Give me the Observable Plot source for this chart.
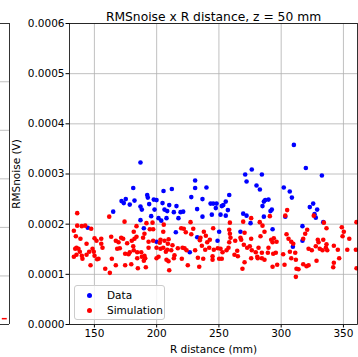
<!DOCTYPE html>
<html><head><meta charset="utf-8">
<script src="https://cdn.jsdelivr.net/npm/d3@7"></script>
<script src="https://cdn.jsdelivr.net/npm/@observablehq/plot@0.6"></script>
<style>
body{margin:0;background:#fff;}
#wrap{position:relative;width:358px;height:357px;overflow:hidden;font-family:"DejaVu Sans",sans-serif;}
#wrap svg{position:absolute;left:0;top:0;}
#legend{position:absolute;left:74px;top:285px;width:89px;height:33px;border:1px solid #cccccc;border-radius:3px;background:rgba(255,255,255,0.8);font-size:10.5px;color:#000;}
.row{position:absolute;left:0;height:14px;line-height:14px;}
.dot{position:absolute;left:11.5px;top:4.5px;width:5px;height:5px;border-radius:50%;}
.lab{position:absolute;left:32px;top:0;white-space:nowrap;}
</style></head><body><div id="wrap"></div>
<script>
const titleText = "RMSnoise x R distance, z = 50 mm";
const xLabel = "R distance (mm)";
const yLabel = "RMSnoise (V)";
const xTicks = [150, 200, 250, 300, 350];
const yTicks = [0, 0.0001, 0.0002, 0.0003, 0.0004, 0.0005, 0.0006];
const seriesNames = ["Data", "Simulation"];
const seriesColors = ["#0000ff", "#ff0000"];

// Data (values in units of 1e-4 V)
const dataR = [187.0,181.2,192.4,192.9,175.2,171.8,173.6,178.4,182.2,187.0,188.1,165.1,194.0,197.7,199.9,204.7,205.5,198.3,195.6,201.5,187.0,206.3,189.7,199.9,144.7,
271.1,276.4,272.2,280.2,282.9,230.9,230.9,240.0,212.2,227.8,236.8,258.3,255.5,253.5,252.3,243.3,245.4,248.1,247.5,257.2,251.3,255.5,244.3,232.5,236.8,
208.5,210.1,215.9,213.8,219.2,221.3,217.5,207.9,269.5,272.2,275.4,267.3,293.1,248.9,317.1,309.4,226.6,232.6,215.4,250.2,317.1,333.8,303.3,286.1,327.8,203.7,
310.2,319.8,332.7,284.5,302.1,306.9,308.6,289.8,287.2,286.1,285.0,292.5,291.4,325.7,323.0,328.9,326.8];
const dataV = [3.23,2.72,2.58,2.53,2.50,2.46,2.42,2.39,2.47,2.35,2.29,2.25,2.40,2.49,2.48,2.42,2.66,2.29,2.16,2.12,2.08,2.29,1.92,1.65,1.93,
2.99,3.09,2.85,2.77,2.69,2.87,2.72,2.73,2.70,2.54,2.50,2.58,2.45,2.38,2.36,2.41,2.41,2.41,2.32,2.28,2.19,2.17,2.19,2.30,2.15,
2.26,2.38,2.36,2.24,2.24,2.25,2.12,2.12,2.21,2.17,2.02,1.85,1.90,1.67,1.67,1.55,1.44,1.74,1.84,1.85,1.96,2.04,2.15,2.15,2.13,2.07,
3.58,3.12,2.97,2.99,2.73,2.65,2.53,2.49,2.48,2.45,2.36,2.29,2.26,2.41,2.34,2.29,2.20];

// Simulation (values in units of 1e-4 V)
const simR = [136.2,161.9,275.9,304.8,290.9,303.3,326.2,
133.5,136.2,139.9,142.6,135.1,138.8,135.6,137.2,134.6,138.3,135.6,133.5,139.9,143.7,145.8,140.4,146.9,153.3,143.7,150.1,151.7,155.5,155.5,156.5,149.5,
163.5,167.2,169.4,171.5,173.1,174.2,183.8,182.2,180.0,181.2,170.4,174.7,177.4,178.4,181.6,184.4,187.6,188.1,190.8,184.4,190.2,174.7,167.2,164.0,158.7,162.4,
191.3,193.5,197.2,193.5,199.9,203.1,201.5,199.9,183.8,
147.4,148.5,194.5,197.2,191.8,196.7,205.7,205.3,189.7,184.9,179.6,150.1,152.2,168.3,176.3,189.1,190.2,181.6,209.6,212.7,214.3,207.4,209.5,210.1,203.1,206.3,202.5,
209.0,205.3,208.5,211.7,207.9,213.8,217.0,219.7,221.8,223.4,227.2,227.8,229.4,222.4,224.0,233.1,225.0,220.2,237.9,235.2,234.7,236.3,240.6,242.7,242.2,239.0,237.4,
244.9,244.9,245.9,249.1,251.3,250.2,252.3,252.9,256.1,257.7,258.3,258.8,259.3,258.3,263.1,262.5,264.7,267.3,267.9,269.5,270.6,270.0,272.7,274.8,275.9,276.4,
279.6,280.8,275.9,268.9,270.6,265.2,258.8,234.2,245.4,239.5,220.8,230.9,
285.0,286.6,283.4,292.0,294.1,296.3,293.1,289.8,281.8,281.2,284.5,286.6,289.3,293.6,295.7,293.1,296.8,302.7,301.6,304.3,305.9,308.1,309.7,307.0,308.1,
311.3,311.8,312.3,313.9,317.7,320.4,322.0,311.8,319.3,320.9,317.7,322.0,324.6,327.8,329.4,330.0,331.0,333.2,335.9,337.0,336.4,333.8,334.3,336.4,
342.3,345.5,346.6,342.3,341.8,349.3,350.3,354.7,353.1,360.5,360.0,360.5,282.8,284.5,328.4,348.7];
const simV = [2.22,2.15,2.12,2.28,2.16,2.17,2.17,
1.87,1.97,1.96,1.97,1.76,1.71,1.53,1.51,1.51,1.45,1.39,1.35,1.37,1.39,1.45,1.31,1.18,1.31,1.61,1.72,1.67,1.71,1.61,1.53,1.45,
1.75,1.67,1.64,1.73,1.71,2.05,1.75,1.71,1.67,1.56,1.52,1.41,1.40,1.44,1.48,1.44,1.44,1.35,1.32,1.32,1.37,1.18,1.18,1.31,1.11,1.03,
1.14,1.65,1.67,1.53,1.53,1.51,1.35,1.32,1.96,
1.91,1.51,1.90,1.90,2.02,2.03,1.99,1.85,1.27,1.12,1.20,1.37,1.30,1.51,1.62,1.73,1.81,1.85,1.70,1.58,1.38,1.45,1.26,1.08,1.69,1.67,1.63,
1.61,1.53,1.49,1.48,1.29,1.32,1.52,1.92,1.91,1.84,2.04,1.80,1.91,1.52,1.48,1.33,1.18,1.31,1.85,1.73,1.68,1.57,1.64,1.69,1.53,1.49,1.31,
1.36,1.29,1.49,1.52,1.51,1.31,1.31,1.44,1.48,1.53,1.89,1.81,1.73,1.64,1.67,1.39,1.47,1.73,1.69,2.05,1.83,1.59,1.53,1.56,1.71,1.48,
1.44,1.35,1.32,1.11,1.24,1.36,2.03,1.15,1.92,1.77,1.53,1.48,
1.97,1.85,1.76,1.69,1.72,1.65,1.64,1.53,1.53,1.32,1.32,1.29,1.43,1.41,1.43,1.15,1.19,1.19,1.40,1.80,1.71,1.65,1.61,1.45,1.32,
1.43,1.29,1.11,1.10,1.20,1.16,1.18,0.95,1.81,1.89,1.71,1.51,1.48,1.56,1.69,1.64,1.51,1.48,1.53,1.48,1.60,1.69,2.03,1.92,
1.57,1.49,1.32,1.23,1.14,1.76,1.85,1.71,1.49,2.04,1.49,1.12,2.04,1.43,1.27,1.94];

// Fragment of the neighbouring panel (cut at the left edge)
const nbGrid = [1, 2, 3, 4, 5];
const nbFrame = [0, 6.2];
const nbRed = [0.12];

const data = dataR.map((r, i) => ({r, v: dataV[i] * 1e-4}));
const sim = simR.map((r, i) => ({r, v: simV[i] * 1e-4}));

const gridStyle = {stroke: "#b0b0b0", strokeOpacity: 1, strokeWidth: 0.8};

const main = Plot.plot({
  width: 358, height: 357,
  marginLeft: 69, marginRight: 1, marginTop: 23, marginBottom: 33,
  style: {fontFamily: "DejaVu Sans", fontSize: "10.5px", color: "#000", background: "transparent", overflow: "visible"},
  x: {domain: [130, 361.3], ticks: xTicks, tickFormat: d3.format("d"), label: xLabel, labelAnchor: "center", labelArrow: "none", labelOffset: 28, tickSize: 3.5, tickPadding: 2},
  y: {domain: [0, 0.0006], ticks: yTicks, tickFormat: d3.format(".4f"), label: yLabel, labelAnchor: "center", labelArrow: "none", labelOffset: 57, tickSize: 3.5, tickPadding: 1.5},
  marks: [
    Plot.gridX(xTicks, gridStyle),
    Plot.gridY(yTicks, gridStyle),
    Plot.dot(data, {x: "r", y: "v", r: 2.3, fill: seriesColors[0], stroke: "none"}),
    Plot.dot(sim, {x: "r", y: "v", r: 2.3, fill: seriesColors[1], stroke: "none"}),
    Plot.frame({stroke: "#000", strokeWidth: 0.8}),
    Plot.text([titleText], {text: d => d, frameAnchor: "top", dy: -11, fontSize: 12.3, fill: "#000"})
  ]
});

const nb = Plot.plot({
  width: 10, height: 357,
  marginLeft: 0, marginRight: 1, marginTop: 23, marginBottom: 33,
  style: {background: "transparent", overflow: "visible"},
  x: {domain: [0, 1], axis: null},
  y: {domain: [0, 6.2], axis: null},
  marks: [
    Plot.ruleY(nbGrid, gridStyle),
    Plot.ruleY(nbFrame, {stroke: "#000", strokeWidth: 0.8}),
    Plot.ruleX([1], {stroke: "#000", strokeWidth: 0.8}),
    Plot.ruleY(nbRed, {x1: 0.2, x2: 0.75, stroke: "#ff0000", strokeWidth: 1.5})
  ]
});

const wrap = document.getElementById("wrap");
wrap.appendChild(main);
wrap.appendChild(nb);

const legend = document.createElement("div");
legend.id = "legend";
seriesNames.forEach((name, i) => {
  const row = document.createElement("div");
  row.className = "row";
  row.style.top = (2 + i * 15) + "px";
  row.style.width = "100%";
  const dot = document.createElement("span");
  dot.className = "dot";
  dot.style.background = seriesColors[i];
  const lab = document.createElement("span");
  lab.className = "lab";
  lab.textContent = name;
  row.appendChild(dot);
  row.appendChild(lab);
  legend.appendChild(row);
});
wrap.appendChild(legend);
</script>
</body></html>
